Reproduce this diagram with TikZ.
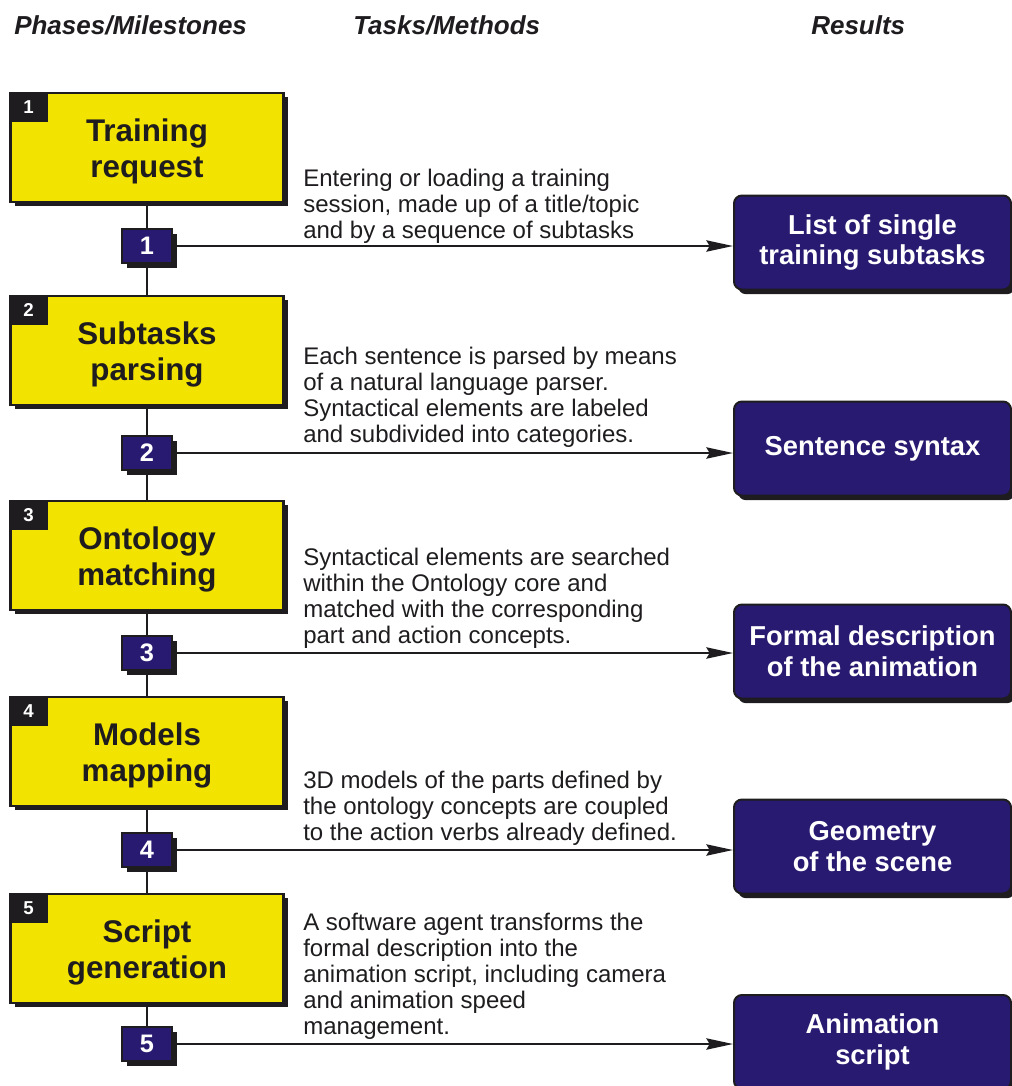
\documentclass[tikz,border=0pt]{standalone}
\usepackage{fontspec}
\setmainfont{Liberation Sans}
\usetikzlibrary{shadows,arrows.meta}
\definecolor{phaseyellow}{RGB}{242,227,0}
\definecolor{resblue}{RGB}{40,26,112}
\definecolor{ink}{RGB}{30,28,30}
\tikzset{
  phase/.style={draw=ink, line width=1.8pt, fill=phaseyellow, minimum width=204.75pt, minimum height=81.75pt,
    inner sep=0pt, align=center, text=ink, font=\fontsize{22.5}{27}\selectfont\bfseries,
    drop shadow={shadow xshift=3pt, shadow yshift=-3pt, fill=ink, opacity=1}},
  cornerbox/.style={fill=ink, minimum width=28.5pt, minimum height=22.5pt, inner sep=0pt, anchor=north west,
    text=white, font=\fontsize{14}{15}\selectfont\bfseries},
  milestone/.style={draw=ink, line width=1.5pt, fill=resblue, minimum width=37.5pt, minimum height=25.5pt,
    inner sep=0pt, text=white, font=\fontsize{19}{20}\selectfont\bfseries,
    drop shadow={shadow xshift=3.5pt, shadow yshift=-3.5pt, fill=ink, opacity=1}},
  result/.style={draw=ink, line width=1.5pt, fill=resblue, rounded corners=6pt, minimum width=207.75pt,
    minimum height=70.5pt, inner sep=0pt, align=center, text=white, font=\fontsize{20.5}{23}\selectfont\bfseries,
    drop shadow={shadow xshift=3pt, shadow yshift=-3.5pt, fill=ink, opacity=1}},
  desc/.style={anchor=south west, inner sep=0pt, align=left, text=ink, font=\fontsize{18}{19.5}\selectfont},
  head/.style={anchor=base west, inner sep=0pt, text=ink, font=\fontsize{19.5}{22}\selectfont\bfseries\itshape},
  titletext/.style={inner sep=0pt, align=center, text=ink, font=\fontsize{23.5}{27}\selectfont\bfseries},
  link/.style={draw=ink, line width=1.5pt},
  feed/.style={draw=ink, line width=1.5pt, -{Stealth[length=20pt,width=8.5pt,inset=2.5pt]}},
}
\begin{document}
\begin{tikzpicture}[x=0.75pt,y=-0.75pt]
\useasboundingbox (0,0) rectangle (1012,1086);
\clip (0,0) rectangle (1012,1086);

% headers
\node[head] (h1) at (14,34) {Phases/Milestones};
\node[head] (h2) at (353,34) {Tasks/Methods};
\node[head] (h3) at (811,34) {Results};

% phase boxes
\node[phase] (yb1) at (147,147.5) {};
\node[phase] (yb2) at (147,350.5) {};
\node[phase] (yb3) at (147,555.5) {};
\node[phase] (yb4) at (147,751.5) {};
\node[phase] (yb5) at (147,948.5) {};

\node[titletext] (t1) at (147,151) {Training\\request};
\node[titletext] (t2) at (147,354) {Subtasks\\parsing};
\node[titletext] (t3) at (147,559) {Ontology\\matching};
\node[titletext] (t4) at (147,755) {Models\\mapping};
\node[titletext] (t5) at (147,952) {Script\\generation};

\node[cornerbox] (c1) at (yb1.north west) {1};
\node[cornerbox] (c2) at (yb2.north west) {2};
\node[cornerbox] (c3) at (yb3.north west) {3};
\node[cornerbox] (c4) at (yb4.north west) {4};
\node[cornerbox] (c5) at (yb5.north west) {5};

% milestone boxes
\node[milestone] (sb1) at (147,246) {1};
\node[milestone] (sb2) at (147,453) {2};
\node[milestone] (sb3) at (147,653) {3};
\node[milestone] (sb4) at (147,850) {4};
\node[milestone] (sb5) at (147,1044) {5};

% vertical links
\draw[link] (yb1.south) -- (sb1.north);
\draw[link] (sb1.south) -- (yb2.north);
\draw[link] (yb2.south) -- (sb2.north);
\draw[link] (sb2.south) -- (yb3.north);
\draw[link] (yb3.south) -- (sb3.north);
\draw[link] (sb3.south) -- (yb4.north);
\draw[link] (yb4.south) -- (sb4.north);
\draw[link] (sb4.south) -- (yb5.north);
\draw[link] (yb5.south) -- (sb5.north);

% result boxes
\node[result] (rb1) at (872.5,242.5) {List of single\\training subtasks};
\node[result] (rb2) at (872.5,448.5) {Sentence syntax};
\node[result] (rb3) at (872.5,651.5) {Formal description\\of the animation};
\node[result] (rb4) at (872.5,846.5) {Geometry\\of the scene};
\node[result] (rb5) at (872.5,1042) {Animation\\script};

% arrows
\draw[feed] (sb1.east) -- (sb1.east -| rb1.west);
\draw[feed] (sb2.east) -- (sb2.east -| rb2.west);
\draw[feed] (sb3.east) -- (sb3.east -| rb3.west);
\draw[feed] (sb4.east) -- (sb4.east -| rb4.west);
\draw[feed] (sb5.east) -- (sb5.east -| rb5.west);

% descriptions
\node[desc] (d1) at (303,244) {Entering or loading a training\\session, made up of a title/topic\\and by a sequence of subtasks};
\node[desc] (d2) at (303,448) {Each sentence is parsed by means\\of a natural language parser.\\Syntactical elements are labeled\\and subdivided into categories.};
\node[desc] (d3) at (303,649) {Syntactical elements are searched\\within the Ontology core and\\matched with the corresponding\\part and action concepts.};
\node[desc] (d4) at (303,846) {3D models of the parts defined by\\the ontology concepts are coupled\\to the action verbs already defined.};
\node[desc] (d5) at (303,1040) {A software agent transforms the\\formal description into the\\animation script, including camera\\and animation speed\\management.};
\end{tikzpicture}
\end{document}
